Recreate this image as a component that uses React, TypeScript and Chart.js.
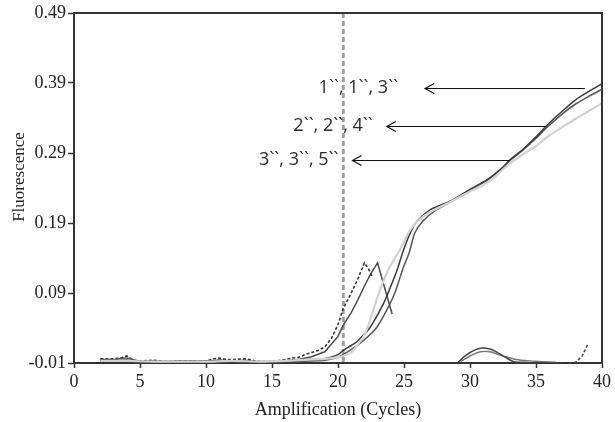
import { useEffect, useRef } from "react";
import { Chart, registerables } from "chart.js";

Chart.register(...registerables);

const SERIF = '"Liberation Serif", "Times New Roman", serif';
const SANS = '"Open Sans", "Noto Sans", sans-serif';

// Axis ticks
const xTicks = [0, 5, 10, 15, 20, 25, 30, 35, 40];
const yTicks = [-0.01, 0.09, 0.19, 0.29, 0.39, 0.49];

// Rising amplification curves (dark)
const cyclesA = [2, 3, 4, 5, 6, 7, 8, 9, 10, 11, 12, 13, 14, 15, 16, 17, 18, 19, 20, 20.4, 21, 21.4, 22.4, 23.4, 23.9, 24.5, 24.9, 25.5, 26, 27, 28.7, 30, 31.3, 32.5, 33, 34, 35, 35.8, 37, 38, 39, 40];
const fluorA = [-0.006, -0.007, -0.006, -0.008, -0.007, -0.008, -0.007, -0.008, -0.007, -0.006, -0.007, -0.008, -0.008, -0.008, -0.007, -0.006, -0.005, -0.004, 0.002, 0.008, 0.015, 0.02, 0.04, 0.073, 0.095, 0.124, 0.148, 0.177, 0.193, 0.209, 0.223, 0.238, 0.252, 0.27, 0.28, 0.295, 0.313, 0.329, 0.35, 0.366, 0.378, 0.389];

const cyclesB = [2, 3, 4, 5, 6, 7, 8, 9, 10, 11, 12, 13, 14, 15, 16, 17, 18, 19, 20, 20.9, 21.8, 22.9, 23.9, 24.4, 24.9, 25.4, 25.8, 26.4, 27.3, 28.7, 30, 31.3, 32.5, 33, 34, 35, 35.8, 37, 38, 39, 40];
const fluorB = [-0.005, -0.005, -0.003, -0.008, -0.008, -0.009, -0.008, -0.007, -0.009, -0.007, -0.008, -0.007, -0.009, -0.009, -0.008, -0.008, -0.007, -0.006, -0.002, 0.008, 0.02, 0.04, 0.073, 0.095, 0.124, 0.148, 0.175, 0.192, 0.207, 0.222, 0.237, 0.251, 0.269, 0.279, 0.294, 0.311, 0.326, 0.346, 0.36, 0.371, 0.381];

// Rising curve (light grey)
const cyclesL = [2, 4, 6, 8, 10, 12, 14, 16, 17, 18, 19, 20, 21, 22, 22.5, 23, 23.5, 24, 24.7, 25.4, 26, 27, 28.5, 30, 31.5, 33, 34, 35, 36, 37, 38, 39, 40];
const fluorL = [-0.007, -0.007, -0.008, -0.008, -0.008, -0.007, -0.008, -0.007, -0.006, -0.005, -0.004, -0.002, 0.005, 0.03, 0.055, 0.085, 0.11, 0.13, 0.152, 0.178, 0.192, 0.206, 0.22, 0.235, 0.25, 0.275, 0.288, 0.3, 0.315, 0.327, 0.339, 0.35, 0.361];

// Early curves that peak and break off
const cyclesP1 = [2, 2.5, 3, 3.5, 4, 4.5, 5, 6, 7, 8, 9, 10, 10.5, 11, 11.5, 12, 13, 14, 15, 16, 16.5, 17, 17.5, 18, 18.5, 19, 19.5, 20, 20.4, 21, 21.5, 22, 22.3, 22.6];
const fluorP1 = [-0.004, -0.004, -0.004, -0.003, 0.0, -0.006, -0.007, -0.006, -0.008, -0.007, -0.007, -0.008, -0.004, -0.003, -0.005, -0.005, -0.004, -0.008, -0.008, -0.005, -0.003, -0.002, 0.002, 0.005, 0.008, 0.013, 0.025, 0.045, 0.068, 0.09, 0.11, 0.133, 0.125, 0.113];

const cyclesP2 = [2, 3, 4, 5, 6, 7, 8, 9, 10, 11, 12, 13, 14, 15, 16, 17, 18, 19, 20, 20.4, 21, 21.5, 22, 22.5, 23, 23.4, 23.8, 24.1];
const fluorP2 = [-0.007, -0.007, -0.006, -0.009, -0.009, -0.008, -0.009, -0.008, -0.008, -0.006, -0.007, -0.006, -0.009, -0.009, -0.007, -0.005, -0.001, 0.006, 0.028, 0.044, 0.062, 0.08, 0.1, 0.118, 0.133, 0.106, 0.08, 0.06];

// Late low-level bumps
const cyclesLate1 = [29.1, 29.5, 30, 30.8, 31.5, 32, 32.7, 33.3, 34, 35, 36, 37];
const fluorLate1 = [-0.009, -0.002, 0.005, 0.011, 0.01, 0.006, -0.002, -0.008, -0.009, -0.01, -0.01, -0.01];
const cyclesLate2 = [29.3, 30, 30.8, 31.5, 32.5, 33.5, 34.5, 35.5, 36.5];
const fluorLate2 = [-0.008, 0.0, 0.006, 0.006, 0.0, -0.005, -0.007, -0.008, -0.009];
const cyclesSpike = [37.5, 38, 38.5, 38.9];
const fluorSpike = [-0.01, -0.009, 0.0, 0.016];

// Threshold cycle and arrow annotations
const thresholdCycle = 20.4;
const arrowLabels = ["1``, 1``, 3``", "2``, 2``, 4``", "3``, 3``, 5``"];
const arrowLevels = [0.383, 0.329, 0.28];
const arrowTails = [38.7, 35.8, 33.0];
const arrowHeads = [26.6, 23.7, 21.1];

const pts = (xs: number[], ys: number[]) => xs.map((x, i) => ({ x, y: ys[i] }));

const annotations = {
  id: "annotations",
  beforeDatasetsDraw(chart: any) {
    const { ctx, chartArea, scales } = chart;
    const x = scales.x.getPixelForValue(thresholdCycle);
    ctx.save();
    ctx.strokeStyle = "#a0a0a0";
    ctx.lineWidth = 3;
    ctx.setLineDash([5, 3]);
    ctx.beginPath();
    ctx.moveTo(x, chartArea.top);
    ctx.lineTo(x, chartArea.bottom);
    ctx.stroke();
    ctx.restore();
  },
  afterDraw(chart: any) {
    const { ctx, chartArea, scales } = chart;
    const { left, right, top, bottom } = chartArea;
    ctx.save();
    // frame top and right
    ctx.strokeStyle = "#333";
    ctx.lineWidth = 2;
    ctx.beginPath();
    ctx.moveTo(left, top);
    ctx.lineTo(right, top);
    ctx.lineTo(right, bottom);
    ctx.stroke();

    // arrows with labels
    ctx.strokeStyle = "#111";
    ctx.lineWidth = 1.2;
    ctx.fillStyle = "#2a2a2a";
    ctx.font = `18px ${SANS}`;
    ctx.textAlign = "right";
    ctx.textBaseline = "middle";
    const gaps = [27, 14, 14];
    arrowLabels.forEach((label, i) => {
      const y = Math.round(scales.y.getPixelForValue(arrowLevels[i])) + 0.5;
      const xt = scales.x.getPixelForValue(arrowTails[i]);
      const xh = scales.x.getPixelForValue(arrowHeads[i]);
      ctx.beginPath();
      ctx.moveTo(xt, y);
      ctx.lineTo(xh, y);
      ctx.moveTo(xh + 9, y - 5);
      ctx.lineTo(xh, y);
      ctx.lineTo(xh + 9, y + 5);
      ctx.stroke();
      ctx.fillText(label, xh - gaps[i], y - 1);
    });

    // y-axis title
    ctx.fillStyle = "#222";
    ctx.font = `17px ${SERIF}`;
    ctx.textAlign = "center";
    ctx.translate(20, 177);
    ctx.rotate(-Math.PI / 2);
    ctx.fillText("Fluorescence", 0, 0);
    ctx.restore();
  },
};

export default function App() {
  const ref = useRef<HTMLCanvasElement>(null);

  useEffect(() => {
    const dark = "#3a3a3a";
    const line = (data: any, color: string, width: number, dash: number[] = [], tension = 0.2) => ({
      data,
      borderColor: color,
      borderWidth: width,
      borderDash: dash,
      pointRadius: 0,
      tension,
      fill: false,
    });
    const chart = new Chart(ref.current!, {
      type: "line",
      data: {
        datasets: [
          line(pts(cyclesL, fluorL), "#d2d2d2", 2.2),
          line(pts(cyclesA, fluorA), dark, 1.5),
          line(pts(cyclesB, fluorB), "#555", 1.5),
          line(pts(cyclesP1, fluorP1), "#333", 1.6, [3, 2], 0),
          line(pts(cyclesP2, fluorP2), "#4a4a4a", 1.5, [], 0),
          line(pts(cyclesLate1, fluorLate1), "#444", 1.5),
          line(pts(cyclesLate2, fluorLate2), "#777", 1.4),
          line(pts(cyclesSpike, fluorSpike), "#444", 1.5, [3, 2], 0),
        ],
      },
      options: {
        responsive: false,
        animation: false,
        events: [],
        layout: { padding: { top: 13, right: 13, left: 0, bottom: 0 } },
        plugins: { legend: { display: false }, tooltip: { enabled: false } },
        scales: {
          x: {
            type: "linear",
            min: 0,
            max: 40,
            afterFit: (s: any) => {
              s.height = 59;
            },
            afterBuildTicks: (s: any) => {
              s.ticks = xTicks.map((v) => ({ value: v }));
            },
            border: { color: "#333", width: 2 },
            grid: { drawOnChartArea: false, drawTicks: true, tickLength: 5, tickColor: "#333", tickWidth: 1.5 },
            ticks: {
              color: "#222",
              font: { family: SERIF, size: 18 },
              padding: 3,
              maxRotation: 0,
              callback: (v: any) => String(v),
            },
            title: {
              display: true,
              text: "Amplification (Cycles)",
              color: "#222",
              font: { family: SERIF, size: 18 },
              padding: { top: 0, bottom: 1 },
            },
          },
          y: {
            type: "linear",
            min: -0.01,
            max: 0.49,
            afterFit: (s: any) => {
              s.width = 74;
            },
            afterBuildTicks: (s: any) => {
              s.ticks = yTicks.map((v) => ({ value: v }));
            },
            border: { color: "#333", width: 2 },
            grid: { drawOnChartArea: false, drawTicks: true, tickLength: 6, tickColor: "#333", tickWidth: 1.5 },
            ticks: {
              color: "#222",
              font: { family: SERIF, size: 18 },
              padding: 2,
              callback: (v: any) => Number(v).toFixed(2),
            },
          },
        },
      },
      plugins: [annotations],
    });
    return () => chart.destroy();
  }, []);

  return (
    <div style={{ position: "absolute", left: 0, top: 0, width: 615, height: 422, background: "#fff" }}>
      <canvas ref={ref} width={615} height={422} style={{ display: "block" }} />
    </div>
  );
}
